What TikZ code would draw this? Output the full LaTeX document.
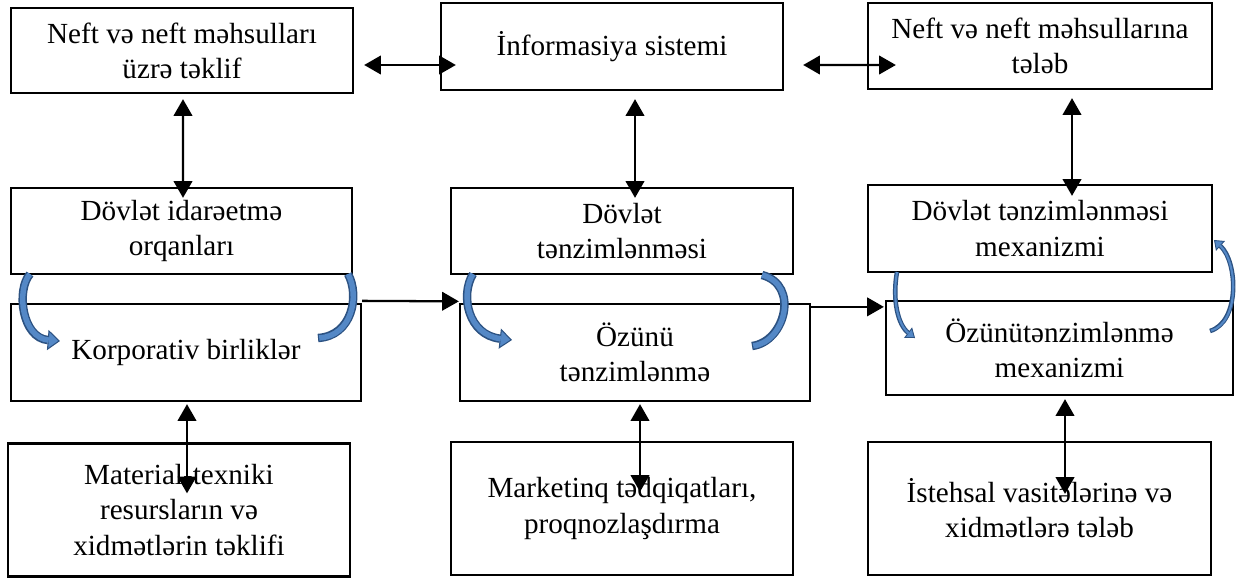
\documentclass[tikz,border=0pt]{standalone}
\usepackage{fontspec}
\setmainfont{Liberation Serif}
\usetikzlibrary{arrows.meta}
\definecolor{arcfill}{RGB}{84,136,198}
\definecolor{arcline}{RGB}{44,82,130}
\tikzset{
  box/.style={draw, line width=1.3pt, align=center, inner sep=0pt,
    font=\fontsize{16.6}{20}\selectfont},
  boxsize/.style 2 args={minimum width=#1*0.02cm, minimum height=#2*0.02cm},
  link/.style={line width=1.3pt},
  arcout/.style={draw=arcline, line width=4.8pt},
  arcin/.style={draw=arcfill, line width=3.1pt},
  arctip/.style={-{Triangle[length=7pt,width=11.5pt,fill=arcfill,line width=0.6pt]}},
  thinout/.style={draw=arcline, line width=2.6pt},
  thinin/.style={draw=arcfill, line width=1.2pt},
  thintip/.style={-{Triangle[length=5pt,width=7.5pt,fill=arcfill,line width=0.5pt]}}
}
\begin{document}
\begin{tikzpicture}[x=0.02cm,y=-0.02cm,>={Triangle[length=9.5pt,width=10.5pt]}]
 \useasboundingbox (0,0) rectangle (1236,578);
 % top row
 \node[box, boxsize={342}{85}] (supply) at (182,50.5) {Neft və neft məhsulları\\üzrə təklif};
 \node[box, boxsize={342}{87}] (info) at (612,46.5) {İnformasiya sistemi};
 \node[box, boxsize={344}{86}] (demand) at (1040,46) {Neft və neft məhsullarına\\tələb};
 % state row
 \node[box, boxsize={341}{86}] (organs) at (181.5,231) {Dövlət idarəetmə\\orqanları};
 \node[box, boxsize={342}{86}] (statereg) at (622,231) {Dövlət\\tənzimlənməsi};
 \node[box, boxsize={344}{87}] (statemech) at (1040,228.5) {Dövlət tənzimlənməsi\\mexanizmi};
 % self-regulation row
 \node[box, boxsize={350}{97}] (corp) at (186,352.5) {Korporativ birliklər};
 \node[box, boxsize={350}{97}] (selfreg) at (635,352.5) {Özünü\\tənzimlənmə};
 \node[box, boxsize={347}{94}] (selfmech) at (1059.5,348) {Özünütənzimlənmə\\mexanizmi};
 % bottom row
 \node[box, boxsize={342}{133}] (resources) at (179,510) {Material-texniki\\resursların və\\xidmətlərin təklifi};
 \node[box, boxsize={342}{133}] (marketing) at (622,508.5) {Marketinq tədqiqatları,\\proqnozlaşdırma};
 \node[box, boxsize={343}{133}] (means) at (1039.5,508.5) {İstehsal vasitələrinə və\\xidmətlərə tələb};

 \draw[link,<->] ([shift={(10,14.5)}]supply.east) -- ([shift={(16,18.5)}]info.west);
 \draw[link,<->] ([shift={(19,18.5)}]info.east) -- ([shift={(29,19)}]demand.west);
 \draw[link,<->] ([shift={(1,5)}]supply.south) -- ([shift={(1.5,11)}]organs.north);
 \draw[link,<->] ([shift={(23,8)}]info.south) -- ([shift={(13,11)}]statereg.north);
 \draw[link,<->] ([shift={(32,8)}]demand.south) -- ([shift={(32,12)}]statemech.north);
 \draw[link,<->] ([shift={(1,2)}]corp.south) -- ([shift={(8,51)}]resources.north);
 \draw[link,<->] ([shift={(5,2)}]selfreg.south) -- ([shift={(18,51)}]marketing.north);
 \draw[link,<->] ([shift={(5.5,3)}]selfmech.south) -- ([shift={(25.5,53)}]means.north);
 \draw[link,->] ([shift={(0,-2)}]corp.north east) -- ([shift={(0,-1.5)}]selfreg.north west);
 \draw[link,->] ([shift={(0,4)}]selfreg.north east) -- ([shift={(-1,7)}]selfmech.north west);

 % blue turning arrows
 \draw[arcout,arctip] (30,274) .. controls (16,290) and (22,338) .. (60,341);
 \draw[arcin,shorten >=6.4pt] (30,274) .. controls (16,290) and (22,338) .. (60,341);
 \draw[arcout] (318,338) .. controls (352,336) and (360,296) .. (348,274);
 \draw[arcin,shorten <=0.7pt] (318,338) .. controls (352,336) and (360,296) .. (348,274);
 \draw[arcout,arctip] (473,274) .. controls (460,295) and (468,335) .. (512,340);
 \draw[arcin,shorten >=6.4pt] (473,274) .. controls (460,295) and (468,335) .. (512,340);
 \draw[arcout] (752,346) .. controls (785,342) and (800,285) .. (762,275);
 \draw[arcin,shorten <=0.7pt] (752,346) .. controls (785,342) and (800,285) .. (762,275);
 \draw[thinout,thintip] (897,272) .. controls (892,300) and (898,325) .. (915,338);
 \draw[thinin,shorten >=4.5pt] (897,272) .. controls (892,300) and (898,325) .. (915,338);
 \draw[thinout,thintip] (1210,331) .. controls (1240,322) and (1238,262) .. (1214,240);
 \draw[thinin,shorten >=4.5pt,shorten <=0.6pt] (1210,331) .. controls (1240,322) and (1238,262) .. (1214,240);
\end{tikzpicture}
\end{document}
